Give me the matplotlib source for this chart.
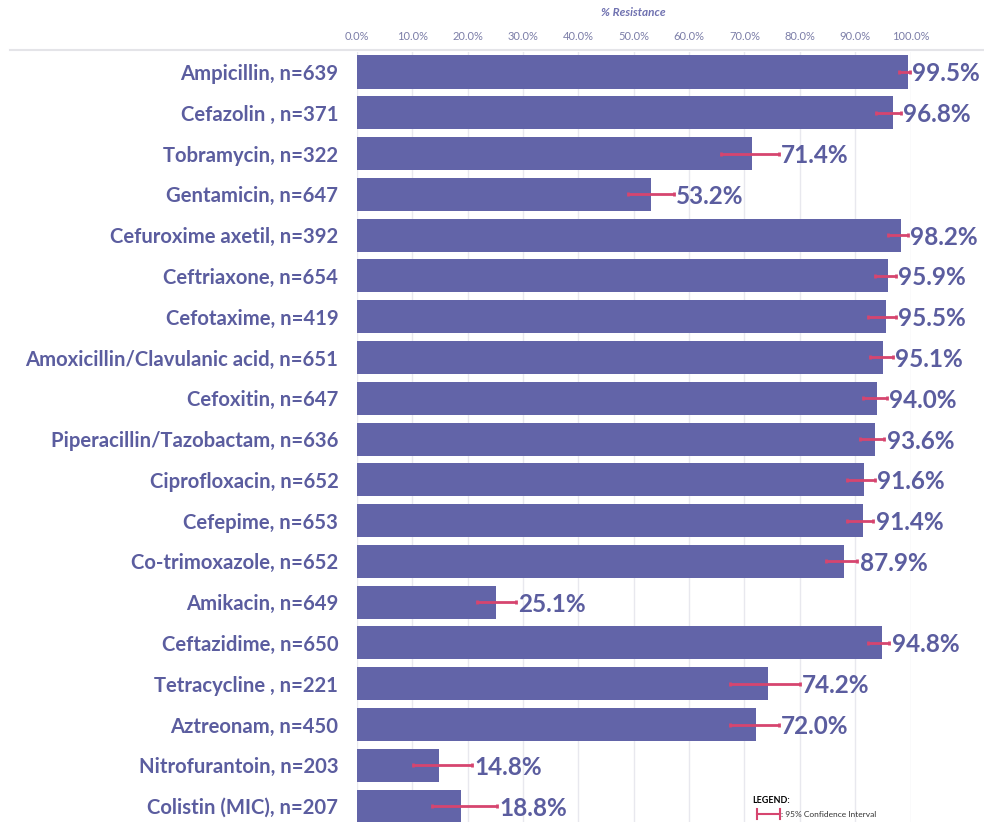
import matplotlib
matplotlib.use("Agg")
import matplotlib.pyplot as plt
from matplotlib.lines import Line2D

# Antibiotic names as printed, isolate counts and resistance with 95% CI
drugs = ["Ampicillin", "Cefazolin ", "Tobramycin", "Gentamicin", "Cefuroxime axetil",
         "Ceftriaxone", "Cefotaxime", "Amoxicillin/Clavulanic acid", "Cefoxitin",
         "Piperacillin/Tazobactam", "Ciprofloxacin", "Cefepime", "Co-trimoxazole",
         "Amikacin", "Ceftazidime", "Tetracycline ", "Aztreonam", "Nitrofurantoin",
         "Colistin (MIC)"]
n_tested = [639, 371, 322, 647, 392, 654, 419, 651, 647, 636, 652, 653, 652,
            649, 650, 221, 450, 203, 207]
resistance = [99.5, 96.8, 71.4, 53.2, 98.2, 95.9, 95.5, 95.1, 94.0, 93.6, 91.6,
              91.4, 87.9, 25.1, 94.8, 74.2, 72.0, 14.8, 18.8]
ci_low = [98.0, 93.7, 65.8, 49.0, 95.9, 93.5, 92.4, 92.6, 91.5, 90.8, 88.6,
          88.6, 84.8, 21.7, 92.3, 67.3, 67.3, 10.1, 13.6]
ci_high = [99.9, 98.2, 76.2, 57.2, 99.5, 97.3, 97.3, 96.8, 95.7, 95.3, 93.5,
           93.3, 90.4, 28.8, 96.2, 80.0, 76.2, 20.8, 25.3]
x_ticks = [0, 10, 20, 30, 40, 50, 60, 70, 80, 90, 100]

BAR = "#6264a8"
TEXT = "#5b5d9f"
CI_COLOR = "#d6456f"
FONT = "Lato"

W, H = 984, 822
fig = plt.figure(figsize=(W / 100, H / 100), dpi=100)
ax_left, ax_right = 357 / W, 910.5 / W
ax_top, ax_bottom = 1 - 52 / H, 0.0
ax = fig.add_axes([ax_left, ax_bottom, ax_right - ax_left, ax_top - ax_bottom])

rows = list(range(len(drugs)))
ax.barh(rows, resistance, height=0.81, color=BAR, zorder=2)

xerr = [[r - lo for r, lo in zip(resistance, ci_low)],
        [hi - r for r, hi in zip(resistance, ci_high)]]
ax.errorbar(resistance, rows, xerr=xerr, fmt="none", ecolor=CI_COLOR,
            elinewidth=2, capsize=1.2, capthick=2, zorder=3)

for y, hi, r in zip(rows, ci_high, resistance):
    ax.text(hi + 0.4, y, f"{r:.1f}%", ha="left", va="center_baseline",
            fontsize=17.5, color=TEXT, family=FONT, fontweight="bold",
            clip_on=False, zorder=4)

ax.set_xlim(0, 100)
ax.set_ylim(18 + 0.39, -0.49)
ax.set_yticks(rows)
ax.set_yticklabels([f"{d}, n={n}" for d, n in zip(drugs, n_tested)],
                   fontsize=14.6, color=TEXT, family=FONT, fontweight="bold")
ax.tick_params(axis="y", length=0, pad=13.5)

ax.xaxis.tick_top()
ax.set_xticks(x_ticks)
ax.set_xticklabels([f"{t:.1f}%" for t in x_ticks], fontsize=8,
                   color="#7c7ea8", family=FONT)
ax.tick_params(axis="x", length=0, pad=7)
ax.grid(axis="x", color="#e8e8ee", linewidth=1, zorder=0)
ax.set_axisbelow(True)
for s in ax.spines.values():
    s.set_visible(False)

fig.text((357 + 910.5) / 2 / W, 1 - 12 / H, "% Resistance", ha="center",
         va="center", fontsize=8.5, color="#6f71b0", family=FONT,
         fontweight="bold", style="italic")
fig.add_artist(Line2D([10 / W, 1.0], [1 - 50 / H, 1 - 50 / H],
                      color="#e4e4e8", linewidth=1.5))

# Legend for the confidence interval whiskers
fig.text(752 / W, 1 - 800 / H, "LEGEND:", ha="left", va="center",
         fontsize=6.5, color="black", family=FONT, fontweight="bold")
ly = 1 - 814 / H
fig.add_artist(Line2D([757 / W, 780 / W], [ly, ly], color=CI_COLOR, linewidth=1.5))
for xe in (757, 780):
    fig.add_artist(Line2D([xe / W, xe / W], [ly - 5 / H, ly + 5 / H],
                          color=CI_COLOR, linewidth=1.5))
fig.text(781 / W, ly, ": 95% Confidence Interval", ha="left", va="center",
         fontsize=6, color="#333333", family=FONT)

fig.savefig("out.png", dpi=100, facecolor="white")
